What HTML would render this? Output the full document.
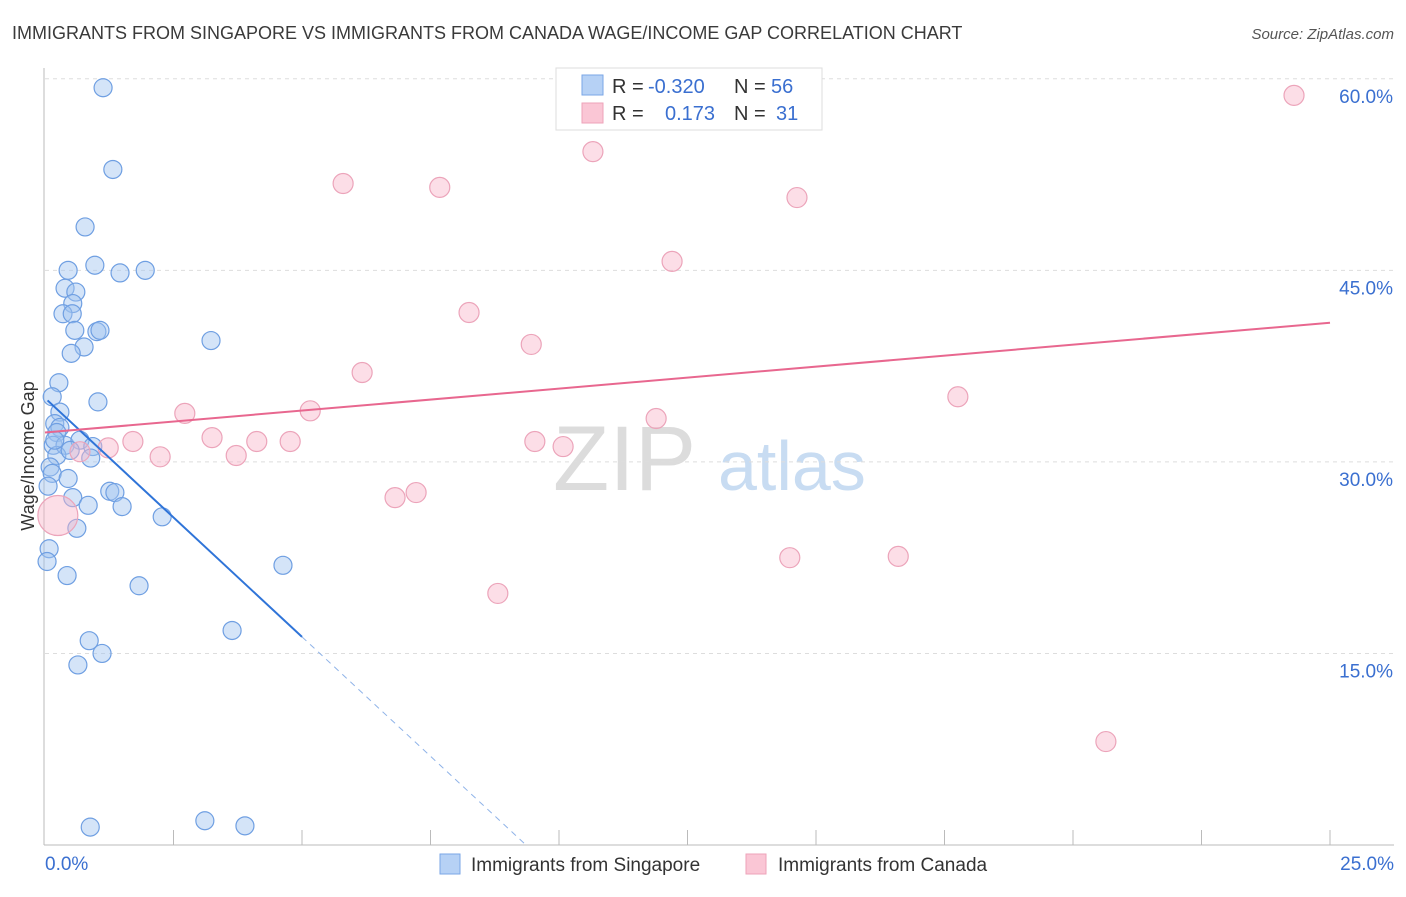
<!DOCTYPE html>
<html><head><meta charset="utf-8"><style>
body{margin:0;background:#fff;font-family:"Liberation Sans",sans-serif}
svg text{font-family:"Liberation Sans",sans-serif}
</style></head><body>
<svg id="chart" width="1406" height="892" viewBox="0 0 1406 892" xmlns="http://www.w3.org/2000/svg">
<text x="12" y="39" font-size="18" fill="#3a3a3a">IMMIGRANTS FROM SINGAPORE VS IMMIGRANTS FROM CANADA WAGE/INCOME GAP CORRELATION CHART</text>
<text x="1394" y="39" font-size="15" fill="#555" font-style="italic" text-anchor="end">Source: ZipAtlas.com</text>
<g>
<text x="553" y="490" font-size="92" fill="#dcdcdc" font-family="Liberation Serif">ZIP</text>
<text x="718" y="490" font-size="70" fill="#c8dcf2">atlas</text>
</g>
<g id="grid"></g>
<g id="axes"></g>
<g id="marks"></g>
<g>
<rect x="556" y="68" width="266" height="62" fill="#fff" stroke="#ddd"/>
<rect x="582" y="75" width="21" height="20" fill="#b6d1f5" stroke="#7aa6e6"/>
<rect x="582" y="103" width="21" height="20" fill="#fac6d5" stroke="#eea3b9"/>
<text x="612" y="93" font-size="20" fill="#333">R =</text>
<text x="648" y="93" font-size="20" fill="#3a6fd0">-0.320</text>
<text x="734" y="93" font-size="20" fill="#333">N =</text>
<text x="771" y="93" font-size="20" fill="#3a6fd0">56</text>
<text x="612" y="120" font-size="20" fill="#333">R =</text>
<text x="665" y="120" font-size="20" fill="#3a6fd0">0.173</text>
<text x="734" y="120" font-size="20" fill="#333">N =</text>
<text x="776" y="120" font-size="20" fill="#3a6fd0">31</text>
</g>
<g>
<rect x="440" y="854" width="20" height="20" fill="#b6d1f5" stroke="#7aa6e6"/>
<text x="471" y="871" font-size="19" fill="#333">Immigrants from Singapore</text>
<rect x="746" y="854" width="20" height="20" fill="#fac6d5" stroke="#eea3b9"/>
<text x="778" y="871" font-size="19" fill="#333">Immigrants from Canada</text>
</g>
<text transform="translate(34,456) rotate(-90)" font-size="18" fill="#333" text-anchor="middle">Wage/Income Gap</text>
</svg>
<script>
const yTicks=[15,30,45,60];
const yTickLabels=["15.0%","30.0%","45.0%","60.0%"];
const xTickLabels=["0.0%","25.0%"];
const blueX=[1.13,1.32,0.78,0.45,0.97,1.46,1.95,0.39,0.60,0.54,0.35,0.53,0.58,1.01,1.07,0.76,0.51,3.23,0.27,0.14,1.03,0.29,0.19,0.29,0.23,0.16,0.39,0.68,0.93,0.89,0.23,0.10,0.14,0.45,0.06,0.54,0.84,1.26,1.36,1.50,0.62,2.28,0.08,0.04,0.43,1.83,4.63,3.64,0.86,1.11,0.64,0.88,3.11,3.89,0.19,0.49];
const blueY=[59.3,52.9,48.4,45.0,45.4,44.8,45.0,43.6,43.3,42.4,41.6,41.6,40.3,40.2,40.3,39.0,38.5,39.5,36.2,35.1,34.7,33.9,33.0,32.7,32.3,31.3,31.3,31.7,31.2,30.3,30.5,29.6,29.1,28.7,28.1,27.2,26.6,27.7,27.6,26.5,24.8,25.7,23.2,22.2,21.1,20.3,21.9,16.8,16.0,15.0,14.1,1.4,1.9,1.5,31.7,30.9];
const pinkX=[24.30,13.02,10.66,5.80,7.68,14.63,12.20,8.25,9.46,6.17,17.76,2.72,5.16,11.89,3.25,4.12,4.77,9.53,10.08,1.71,1.23,0.68,2.24,3.72,6.81,7.22,8.81,14.49,16.60,20.64,0.25];
const pinkY=[58.7,58.6,54.3,51.8,51.5,50.7,45.7,41.7,39.2,37.0,35.1,33.8,34.0,33.4,31.9,31.6,31.6,31.6,31.2,31.6,31.1,30.8,30.4,30.5,27.2,27.6,19.7,22.5,22.6,8.1,25.8];
const pinkR=[10,10,10,10,10,10,10,10,10,10,10,10,10,10,10,10,10,10,10,10,10,10,10,10,10,10,10,10,10,10,20];
const blueTrend=[35.0,-3.74];
const pinkTrend=[32.3,0.344];
const NS="http://www.w3.org/2000/svg";
const X=v=>45+v*51.4, Y=v=>845-v*12.77;
function mk(p,t,a){const e=document.createElementNS(NS,t);for(const k in a)e.setAttribute(k,a[k]);p.appendChild(e);return e;}
const grid=document.getElementById('grid'),axes=document.getElementById('axes'),marks=document.getElementById('marks');
yTicks.forEach((t,i)=>{
 const l=mk(grid,'line',{x1:45,x2:1394,y1:Y(t),y2:Y(t),stroke:'#ddd','stroke-dasharray':'4,4'});
 
 
 const tx=mk(grid,'text',{x:1393,y:Y(t)+24,'font-size':19,fill:'#3a6fd0','text-anchor':'end'});
 tx.textContent=yTickLabels[i];
 
 
});
const ya=mk(axes,'line',{x1:44,x2:44,y1:68,y2:845,stroke:'#bbb'});


const xa=mk(axes,'line',{x1:44,x2:1394,y1:845,y2:845,stroke:'#bbb'});


for(let i=1;i<=10;i++){const t=mk(axes,'line',{x1:X(i*2.5),x2:X(i*2.5),y1:830,y2:845,stroke:'#bbb'});
 
 }
[[0,'start',45],[25,'end',1394]].forEach((d,i)=>{const t=mk(axes,'text',{x:d[2],y:870,'font-size':19,fill:'#3a6fd0','text-anchor':d[1]});t.textContent=xTickLabels[i];
 
 });
blueX.forEach((v,i)=>{const c=mk(marks,'circle',{cx:X(v),cy:Y(blueY[i]),r:9,fill:'rgba(160,196,240,0.45)',stroke:'#6f9fe2','stroke-width':1.2});
 
 });
pinkX.forEach((v,i)=>{const c=mk(marks,'circle',{cx:X(v),cy:Y(pinkY[i]),r:pinkR[i],fill:'rgba(248,182,202,0.45)',stroke:'#eca4ba','stroke-width':1.2});
 
 });
const bEnd=5, bZero=-blueTrend[0]/blueTrend[1];
const bl=mk(marks,'line',{x1:X(0.05),y1:Y(blueTrend[0]+blueTrend[1]*0.05),x2:X(bEnd),y2:Y(blueTrend[0]+blueTrend[1]*bEnd),stroke:'#2f74d8','stroke-width':2});


const bd=mk(marks,'line',{x1:X(bEnd),y1:Y(blueTrend[0]+blueTrend[1]*bEnd),x2:X(bZero),y2:Y(0),stroke:'#8fb3e8','stroke-width':1,'stroke-dasharray':'6,5'});


const pl=mk(marks,'line',{x1:X(0),y1:Y(pinkTrend[0]),x2:X(25),y2:Y(pinkTrend[0]+pinkTrend[1]*25),stroke:'#e8678f','stroke-width':2});


</script>
</body></html>
